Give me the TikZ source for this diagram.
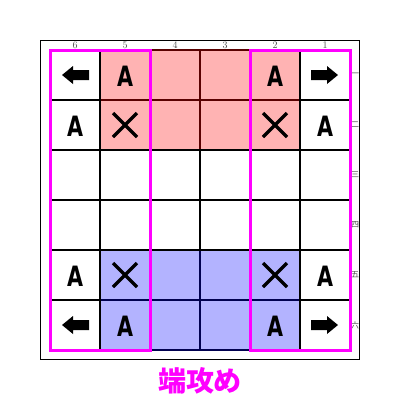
\documentclass[tikz,border=0pt]{standalone}
\usepackage{fontspec}
\newfontfamily\cjk{Noto Sans CJK JP}
\newfontfamily\piecefont{DejaVu Sans Condensed}
\definecolor{pinkfill}{HTML}{FFB3B3}
\definecolor{bluefill}{HTML}{B3B3FF}
\definecolor{darkredline}{HTML}{5A0000}
\definecolor{navyline}{HTML}{000050}
\definecolor{mag}{HTML}{FF00FF}
\tikzset{
  gridline/.style={line width=2pt,black},
  frame/.style={line width=1pt,black},
  hilite/.style={line width=3pt,mag},
  piece/.style={font=\piecefont\bfseries\fontsize{28}{28}\selectfont,inner sep=0pt,xscale=0.82},
  collabel/.style={font=\fontsize{10}{10}\selectfont,text=black!70,inner sep=0pt},
  rowlabel/.style={font=\cjk\fontsize{8}{8}\selectfont,text=black!70,inner sep=0pt},
  caption/.style={font=\cjk\bfseries\fontsize{28}{28}\selectfont,text=mag,inner sep=0pt},
  cross/.style={line width=3.5pt,black},
}
\newcommand{\rarrowat}[2]{\fill[black] (#1-14,#2-5) -- (#1+2,#2-5) -- (#1+2,#2-9) -- (#1+13,#2) -- (#1+2,#2+9) -- (#1+2,#2+5) -- (#1-14,#2+5) -- cycle;}
\newcommand{\larrowat}[2]{\fill[black] (#1+14,#2-5) -- (#1-2,#2-5) -- (#1-2,#2-9) -- (#1-13,#2) -- (#1-2,#2+9) -- (#1-2,#2+5) -- (#1+14,#2+5) -- cycle;}
\newcommand{\crossat}[2]{\draw[cross] (#1-12,#2-12) -- (#1+12,#2+12) (#1-12,#2+12) -- (#1+12,#2-12);}
\begin{document}
\begin{tikzpicture}[x=1pt,y=-1pt]
\useasboundingbox (0,0) rectangle (400,400);
\fill[white] (0,0) rectangle (400,400);
% frame
\draw[frame] (40,40) rectangle (359,359);
% coloured areas
\fill[pinkfill] (100,50) rectangle (300,150);
\fill[bluefill] (100,250) rectangle (300,350);
% grid
\foreach \i in {0,...,6} {
  \draw[gridline] (50+50*\i,50) -- (50+50*\i,350);
  \draw[gridline] (50,50+50*\i) -- (350,50+50*\i);
}
\foreach \xx in {150,200,250} {
  \draw[line width=2pt,darkredline] (\xx,51) -- (\xx,149);
  \draw[line width=2pt,navyline] (\xx,251) -- (\xx,349);
}
\draw[line width=2pt,darkredline] (101,100) -- (299,100);
\draw[line width=2pt,darkredline] (100,50) -- (300,50);
\draw[line width=2pt,navyline] (101,300) -- (299,300);
\draw[line width=2pt,navyline] (100,350) -- (300,350);
% column labels
\foreach \n [count=\k from 0] in {6,5,4,3,2,1}
  \node[collabel] (c\n) at (75+50*\k,45) {\n};
% row labels
\foreach \r [count=\k from 0] in {一,二,三,四,五,六}
  \node[rowlabel] (r\k) at (355,75+50*\k) {\r};
% pieces
\node[piece] (a1) at (125,76) {A};
\node[piece] (a2) at (275,76) {A};
\node[piece] (a3) at (75,126) {A};
\node[piece] (a4) at (325,126) {A};
\node[piece] (a5) at (75,276) {A};
\node[piece] (a6) at (325,276) {A};
\node[piece] (a7) at (125,326) {A};
\node[piece] (a8) at (275,326) {A};
\larrowat{75}{75}
\rarrowat{325}{75}
\larrowat{75}{325}
\rarrowat{325}{325}
\crossat{125}{125}
\crossat{275}{125}
\crossat{125}{275}
\crossat{275}{275}
% highlight boxes
\draw[hilite] (50,50) rectangle (150,350);
\draw[hilite] (250,50) rectangle (350,350);
% caption
\node[caption] (cap) at (200,381) {端攻め};
\end{tikzpicture}
\end{document}
